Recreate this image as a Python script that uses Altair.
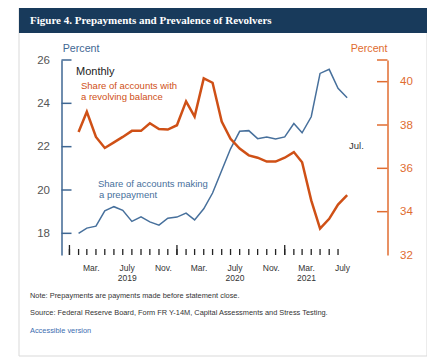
import altair as alt
import pandas as pd

months = ["2019-01", "2019-02", "2019-03", "2019-04", "2019-05", "2019-06", "2019-07", "2019-08",
          "2019-09", "2019-10", "2019-11", "2019-12", "2020-01", "2020-02", "2020-03", "2020-04",
          "2020-05", "2020-06", "2020-07", "2020-08", "2020-09", "2020-10", "2020-11", "2020-12",
          "2021-01", "2021-02", "2021-03", "2021-04", "2021-05", "2021-06", "2021-07"]
prepay = [18.00, 18.24, 18.33, 19.04, 19.23, 19.06, 18.55, 18.76, 18.53, 18.38, 18.70, 18.75,
          18.93, 18.62, 19.13, 19.86, 20.90, 21.90, 22.71, 22.74, 22.37, 22.45, 22.36, 22.45,
          23.07, 22.64, 23.38, 25.38, 25.57, 24.69, 24.26]
revolve = [37.68, 38.61, 37.45, 36.94, 37.20, 37.45, 37.73, 37.73, 38.08, 37.81, 37.79, 37.99,
           39.09, 38.39, 40.15, 39.95, 38.16, 37.36, 36.91, 36.60, 36.49, 36.31, 36.31, 36.49,
           36.75, 36.28, 34.52, 33.22, 33.67, 34.33, 34.76]
left_ticks = [18, 20, 22, 24, 26]
left_labels = [18, 20, 22, 24, 26]
right_ticks = [34, 36, 38, 40, 41]
right_labels = [32, 34, 36, 38, 40]
label_months = ["2019-03", "2019-07", "2019-11", "2020-03", "2020-07", "2020-11", "2021-03", "2021-07"]
label_text = ["Mar.", "July", "Nov.", "Mar.", "July", "Nov.", "Mar.", "July"]
year_months = ["2019-07", "2020-07", "2021-03"]
year_text = ["2019", "2020", "2021"]

BLUE = "#47709c"
BLUE_AX = "#3f6793"
ORANGE = "#cf5016"
ORANGE_AX = "#e06c30"
FONT = "Liberation Sans"

W, H = 326, 195

def iso(ts):
    return ts.strftime("%Y-%m-%dT%H:%M:%S")

# points are drawn at the end of each month
df = pd.DataFrame({
    "month": months,
    "d": [iso(pd.Timestamp(m + "-01") + pd.offsets.MonthBegin(1)) for m in months],
    "prepay": prepay,
    "revolve": revolve,
})
ticks_df = pd.DataFrame({"d": [iso(pd.Timestamp(m + "-01")) for m in months]})
jan_df = pd.DataFrame({"d": [iso(pd.Timestamp(m + "-01")) for m in months if m.endswith("-01")]})
lab_df = pd.DataFrame({"d": [iso(pd.Timestamp(m + "-16")) for m in label_months], "t": label_text})
yr_df = pd.DataFrame({"d": [iso(pd.Timestamp(m + "-16")) for m in year_months], "t": year_text})

xscale = alt.Scale(domain=[alt.DateTime(year=2018, month=12, date=5),
                           alt.DateTime(year=2021, month=12, date=16)])
lscale = alt.Scale(domain=[17, 26])
rscale = alt.Scale(domain=[32, 41])


def txt(text, x, y, color, size, align="left", font=FONT, weight="normal"):
    return alt.Chart(pd.DataFrame({"t": [text]})).mark_text(
        align=align, baseline="middle", color=color, fontSize=size, font=font, fontWeight=weight
    ).encode(x=alt.value(x), y=alt.value(y), text="t:N")


card = alt.Chart(pd.DataFrame({"t": [0]})).mark_rect(
    fillOpacity=0, stroke="#d9d9d9", strokeWidth=1
).encode(x=alt.value(-42.5), x2=alt.value(365.5), y=alt.value(-52), y2=alt.value(296))

bar = alt.Chart(pd.DataFrame({"t": [0]})).mark_rect(fill="#183a5b").encode(
    x=alt.value(-42.5), x2=alt.value(365.5), y=alt.value(-52), y2=alt.value(-27))

title = txt("Figure 4. Prepayments and Prevalence of Revolvers", -31.5, -39.5, "white", 11,
            font="Liberation Serif", weight="bold")

blue_line = alt.Chart(df).mark_line(color=BLUE, strokeWidth=1.5).encode(
    x=alt.X("d:T", scale=xscale,
            axis=alt.Axis(labels=False, ticks=False, grid=False, title=None, zindex=1,
                          domainColor="#222", domainWidth=1.5)),
    y=alt.Y("prepay:Q", scale=lscale,
            axis=alt.Axis(values=left_labels, orient="left", tickSize=0, grid=False, title=None,
                          zindex=1, domainColor=BLUE_AX, domainWidth=1.5, labelColor="#555",
                          labelFontSize=11.5, labelFont=FONT, labelPadding=12)),
)

orange_line = alt.Chart(df).mark_line(color=ORANGE, strokeWidth=2.5).encode(
    x=alt.X("d:T", scale=xscale, axis=None),
    y=alt.Y("revolve:Q", scale=rscale,
            axis=alt.Axis(values=right_labels, orient="right", tickSize=0, grid=False, title=None,
                          zindex=1, domainColor=ORANGE_AX, domainWidth=1.5, labelColor=ORANGE_AX,
                          labelFontSize=11.5, labelFont=FONT, labelPadding=12)),
)

lt = alt.Chart(pd.DataFrame({"v": left_ticks})).mark_rule(color=BLUE_AX, strokeWidth=1.5).encode(
    y=alt.Y("v:Q", scale=lscale, axis=None), x=alt.value(0), x2=alt.value(10))
rt = alt.Chart(pd.DataFrame({"v": right_ticks})).mark_rule(color=ORANGE_AX, strokeWidth=1.5).encode(
    y=alt.Y("v:Q", scale=rscale, axis=None), x=alt.value(W - 10.5), x2=alt.value(W))

mt = alt.Chart(ticks_df).mark_rule(color="#222", strokeWidth=1.3).encode(
    x=alt.X("d:T", scale=xscale, axis=None), y=alt.value(H), y2=alt.value(H - 6))
jt = alt.Chart(jan_df).mark_rule(color="#222", strokeWidth=1.3).encode(
    x=alt.X("d:T", scale=xscale, axis=None), y=alt.value(H), y2=alt.value(H - 10))

ml = alt.Chart(lab_df).mark_text(fontSize=8.5, font=FONT, color="#333", baseline="middle").encode(
    x=alt.X("d:T", scale=xscale, axis=None), y=alt.value(208), text="t:N")
yl = alt.Chart(yr_df).mark_text(fontSize=8.5, font=FONT, color="#333", baseline="middle").encode(
    x=alt.X("d:T", scale=xscale, axis=None), y=alt.value(218), text="t:N")

annots = [
    txt("Percent", 1.2, -11, BLUE_AX, 10.7),
    txt("Percent", W, -11, ORANGE_AX, 10.7, align="right"),
    txt("Monthly", 14.5, 11.7, "#222", 11),
    txt("Share of accounts with", 19.5, 26, ORANGE, 9.5),
    txt("a revolving balance", 19.5, 37.3, ORANGE, 9.5),
    txt("Share of accounts making", 36.5, 124.3, BLUE, 9.5),
    txt("a prepayment", 37.5, 135, BLUE, 9.5),
    txt("Jul.", 287.5, 86, "#333", 9.5),
    txt("Note: Prepayments are payments made before statement close.", -31.5, 235.7, "#333", 7.4),
    txt("Source: Federal Reserve Board, Form FR Y-14M, Capital Assessments and Stress Testing.",
        -31.5, 253.3, "#333", 7.4),
    txt("Accessible version", -31.5, 271, "#3b6db0", 7.4),
]

chart = alt.layer(
    card, bar, title, mt, jt, lt, rt, blue_line, orange_line, ml, yl, *annots
).resolve_scale(y="independent").properties(
    width=W, height=H,
    autosize=alt.AutoSizeParams(type="none"),
    padding={"left": 53.5, "top": 52, "right": 39.5, "bottom": 103},
    background="white",
).configure_view(stroke=None)

chart.save("out.html", embed_options={"renderer": "svg", "actions": False})
